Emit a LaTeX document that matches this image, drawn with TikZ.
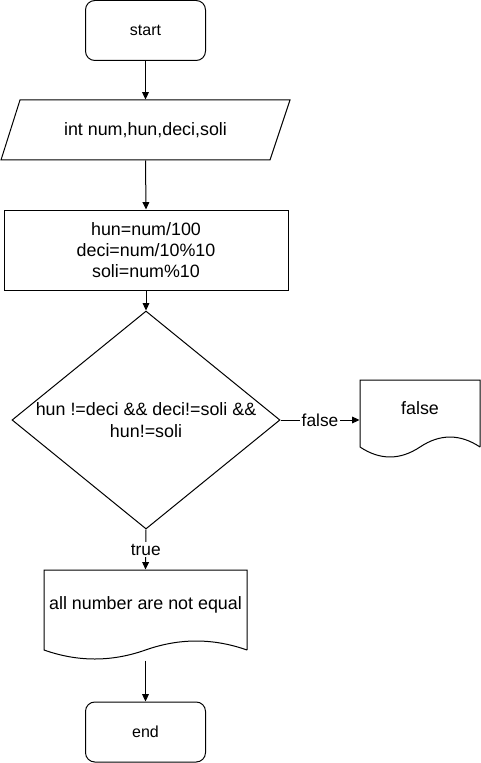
\documentclass[tikz,border=0pt]{standalone}
\usepackage{fontspec}
\setmainfont{Liberation Sans}
\usetikzlibrary{arrows.meta,shapes.geometric}
\begin{document}
\begin{tikzpicture}[x=0.75pt,y=-0.75pt,
  line width=0.75pt,
  every node/.style={font=\fontsize{13.4}{15.5}\selectfont, text=black},
  term/.style={draw, rounded corners=7pt, minimum width=90pt, minimum height=45pt, inner sep=0pt, font=\fontsize{12}{14}\selectfont},
  proc/.style={draw, minimum width=213pt, minimum height=60pt, inner sep=0pt, align=center},
  anchorbox/.style={inner sep=0pt, align=center},
  cond/.style={draw, diamond, minimum width=201pt, minimum height=163.5pt, inner sep=0pt},
  lbl/.style={fill=white, inner sep=1pt, font=\fontsize{13}{15.5}\selectfont},
  arr/.style={-{Triangle[length=5.5pt,width=5pt]}},
  doc/.style={draw, line width=0.75pt}
]
\useasboundingbox (0,0) rectangle (481,763);

% start
\node[term] (start) at (145.5,30.5) {start};

% input parallelogram
\draw (20,100) -- (290,100) -- (270,160) -- (1,160) -- cycle;
\node[anchorbox, minimum width=202pt, minimum height=45pt] (io) at (145.5,130) {int num,hun,deci,soli};

% process
\node[proc] (proc) at (146,250) {hun=num/100\\deci=num/10\%10\\soli=num\%10};

% decision
\node[cond] (cond) at (146,420) {};
\node[anchorbox, font=\fontsize{13.4}{16.5}\selectfont] (condtext) at (146,420) {hun !=deci \&\& deci!=soli \&\&\\hun!=soli};

% false document
\draw[doc] (480,447) -- (480,380) -- (360,380) -- (360,447)
  .. controls (380,460.3) and (400,460.3) .. (420,447)
  .. controls (440,433.7) and (460,433.7) .. (480,447);
\node[anchorbox, minimum width=90pt, minimum height=60pt] (fdoc) at (420,420) {};
\node[anchorbox] (ftext) at (420,408) {false};

% true document
\draw[doc] (247,650) -- (247,570) -- (44,570) -- (44,650)
  .. controls (78,662) and (111.5,662) .. (145.5,650)
  .. controls (179.5,638) and (213,638) .. (247,650);
\node[anchorbox, minimum width=152pt, minimum height=67.5pt] (tdoc) at (145.5,615) {};
\node[anchorbox] (ttext) at (145.5,605) {all number are not equal};

% end
\node[term] (end) at (145.5,732) {end};

% connectors
\draw[arr] (start.south) -- (io.north);
\draw[arr] (io.south) -- (proc.north);
\draw[arr] (proc.south) -- (cond.north);
\draw[arr] (cond.east) -- node[lbl] {false} (fdoc.west);
\draw[arr] (cond.south) -- node[lbl, pos=0.5] {true} (tdoc.north);
\draw[arr] (tdoc.south) -- (end.north);
\end{tikzpicture}
\end{document}
